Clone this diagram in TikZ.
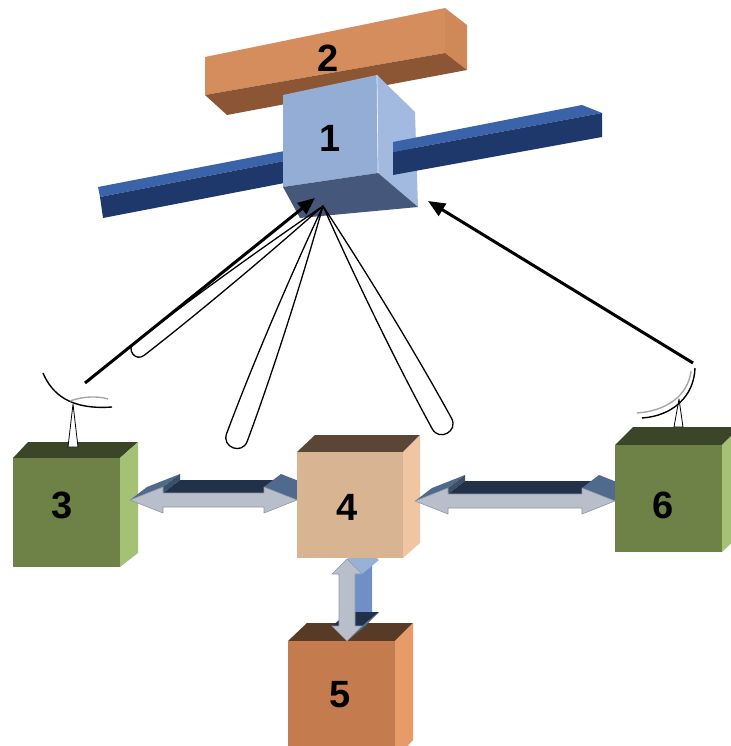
\documentclass[tikz,border=0pt]{standalone}
\usepackage{fontspec}
\setmainfont{Liberation Sans}
\usetikzlibrary{arrows.meta}

% face colours
\definecolor{barfront}{HTML}{D58D5E}
\definecolor{barright}{HTML}{CF8857}
\definecolor{barbottom}{HTML}{8C5533}
\definecolor{satfront}{HTML}{93ADD5}
\definecolor{satright}{HTML}{A2BADF}
\definecolor{satbottom}{HTML}{45577A}
\definecolor{paneltop}{HTML}{3A63AA}
\definecolor{panelfront}{HTML}{1F386C}
\definecolor{grtop}{HTML}{3B4527}
\definecolor{grfront}{HTML}{6E8146}
\definecolor{grright}{HTML}{A5C175}
\definecolor{tantop}{HTML}{5B4636}
\definecolor{tanfront}{HTML}{D8B493}
\definecolor{tanright}{HTML}{F0C6A2}
\definecolor{ortop}{HTML}{583B27}
\definecolor{orfront}{HTML}{C47C4E}
\definecolor{orright}{HTML}{E79B69}
\definecolor{arfront}{HTML}{B9BFCA}
\definecolor{aredge}{HTML}{8D96A6}
\definecolor{arhead}{HTML}{4F6A8C}
\definecolor{arshaft}{HTML}{22314A}
\definecolor{arside}{HTML}{6F90C6}

% flat 3-D double arrow lying horizontally: #1 left tip x, #2 right tip x, #3 axis y
\newcommand\linkH[3]{%
  \fill[arhead] (#1,#3) -- ({#1+17},{#3-13}) -- ({#1+50},{#3-26}) -- ({#1+33},{#3-13}) -- cycle;
  \fill[arhead!75!black] ({#1+33},{#3-13}) -- ({#1+50},{#3-26}) -- ({#1+50},{#3-20}) -- ({#1+33},{#3-7}) -- cycle;
  \fill[arshaft] ({#1+33},{#3-7}) -- ({#1+50},{#3-20}) -- ({#2-16},{#3-20}) -- ({#2-33},{#3-7}) -- cycle;
  \fill[arhead] ({#2-33},{#3-13}) -- ({#2-16},{#3-26}) -- ({#2+17},{#3-13}) -- (#2,#3) -- cycle;
  \filldraw[fill=arfront, draw=aredge, line width=0.6pt, line join=round]
    (#1,#3) -- ({#1+33},{#3-13}) -- ({#1+33},{#3-7}) -- ({#2-33},{#3-7}) -- ({#2-33},{#3-13})
    -- (#2,#3) -- ({#2-33},{#3+13}) -- ({#2-33},{#3+7}) -- ({#1+33},{#3+7}) -- ({#1+33},{#3+13}) -- cycle;
}

% radiation lobe leaving the satellite: #1 angle, #2 length, #3 half width
\newcommand\beamlobe[3]{%
  \draw[lobe, shift={(apex)}, rotate=#1]
    (0,0) .. controls ({0.4*#2},{0.75*#3}) and ({0.75*#2},{#3}) .. ({#2-#3},{#3})
    .. controls ({#2+0.333*#3},{#3}) and ({#2+0.333*#3},{-#3}) .. ({#2-#3},{-#3})
    .. controls ({0.75*#2},{-#3}) and ({0.4*#2},{-0.75*#3}) .. cycle;
}

\begin{document}
\begin{tikzpicture}[x=1pt, y=-1pt,
  lbl/.style={font=\fontsize{38}{38}\selectfont\bfseries, text=black, inner sep=0pt},
  lobe/.style={draw=black, line width=1.3pt, line join=round},
  uplink/.style={draw=black, line width=3pt, -{Triangle[length=17pt,width=14pt]}},
  dish/.style={draw=black, line width=1.4pt},
  dishlight/.style={draw=black!35, line width=1.4pt},
  mast/.style={fill=white, draw=black, line width=0.8pt, line join=round}]

\useasboundingbox (0,0) rectangle (730,746);

% --- unit 2: long box above the satellite
\fill[barfront] (205,57) -- (445,8) -- (445,53) -- (205,95) -- cycle;
\fill[barright] (445,8) -- (467,25) -- (467,70) -- (445,53) -- cycle;
\fill[barbottom] (205,95) -- (445,53) -- (467,70) -- (227,115) -- cycle;

% --- left solar panel
\fill[paneltop] (98,187) -- (300,148) -- (300,158) -- (100,197) -- cycle;
\fill[panelfront] (100,197) -- (300,158) -- (300,180) -- (103,218) -- cycle;

% --- satellite body (unit 1)
\fill[satfront] (283,95) -- (377,75) -- (378,173) -- (283,187) -- cycle;
\fill[satright] (377,75) -- (415,112) -- (418,207) -- (378,173) -- cycle;
\fill[satbottom] (283,187) -- (378,173) -- (418,207) -- (300,218) -- cycle;
\draw[white!80!satfront, line width=0.7pt] (377,75) -- (378,173);

% --- right solar panel
\fill[paneltop] (393,142) -- (582,105) -- (602,113) -- (393,152) -- cycle;
\fill[panelfront] (393,152) -- (602,113) -- (602,137) -- (393,175) -- cycle;

\node[lbl] (n2) at (328,58) {2};
\node[lbl] (n1) at (330,138) {1};

% --- ground unit 3
\fill[grtop] (13,458) -- (28,442) -- (138,442) -- (120,458) -- cycle;
\fill[grfront] (13,458) rectangle (120,567);
\fill[grright] (120,458) -- (138,442) -- (138,553) -- (120,567) -- cycle;

% link 3 <-> 4
\linkH{130}{297}{500}

% --- unit 5
\fill[ortop] (288,641) -- (307,623) -- (413,623) -- (395,641) -- cycle;
\fill[orfront] (288,641) rectangle (395,760);
\fill[orright] (395,641) -- (413,623) -- (413,740) -- (395,760) -- cycle;

% link 4 <-> 5 (vertical)
\fill[arside] (355,574) -- (372,560) -- (372,612) -- (355,626) -- cycle;
\fill[arside!70!white] (347,559) -- (364,545) -- (379,560) -- (362,574) -- cycle;
\fill[arshaft] (332,626) -- (349,612) -- (379,612) -- (362,626) -- cycle;
\fill[arhead] (362,626) -- (379,612) -- (364,627) -- (347,641) -- cycle;
\filldraw[fill=arfront, draw=aredge, line width=0.6pt, line join=round]
  (347,559) -- (362,574) -- (355,574) -- (355,626) -- (362,626) -- (347,641)
  -- (332,626) -- (339,626) -- (339,574) -- (332,574) -- cycle;

% --- unit 4
\fill[tantop] (297,452) -- (315,435) -- (420,435) -- (403,452) -- cycle;
\fill[tanfront] (297,452) rectangle (403,558);
\fill[tanright] (403,452) -- (420,435) -- (420,543) -- (403,558) -- cycle;

% link 4 <-> 6
\linkH{415}{615}{501}

% --- ground unit 6
\fill[grtop] (615,445) -- (633,427) -- (740,427) -- (722,445) -- cycle;
\fill[grfront] (615,445) rectangle (722,552);
\fill[grright] (722,445) -- (740,427) -- (740,535) -- (722,552) -- cycle;

\node[lbl] (n3) at (62,505) {3};
\node[lbl] (n4) at (347,507) {4};
\node[lbl] (n5) at (340,695) {5};
\node[lbl] (n6) at (663,505) {6};

% --- antennas
\draw[mast] (73,404) -- (68,447) -- (78,447) -- cycle;
\draw[dish] (43,373) .. controls (52,394) and (70,410) .. (112,407);
\draw[dishlight] (70,401) .. controls (84,396) and (98,396) .. (108,399);

\draw[mast] (679,399) -- (674,427) -- (683,427) -- cycle;
\draw[dishlight] (691,371) .. controls (688,396) and (666,411) .. (637,413);
\draw[dish] (695,368) .. controls (694,397) and (672,416) .. (642,418);

% --- radiation lobes from the satellite
\coordinate (apex) at (323,206);
\beamlobe{-142.1}{241}{8}
\beamlobe{-110.4}{258}{11}
\beamlobe{-61.35}{259}{11}

% --- up-links from the ground antennas
\coordinate (ant3) at (85,383);
\coordinate (sat3) at (315,198);
\coordinate (ant6) at (693,363);
\coordinate (sat6) at (428,201);
\draw[uplink] (ant3) -- (sat3);
\draw[uplink] (ant6) -- (sat6);

\end{tikzpicture}
\end{document}
